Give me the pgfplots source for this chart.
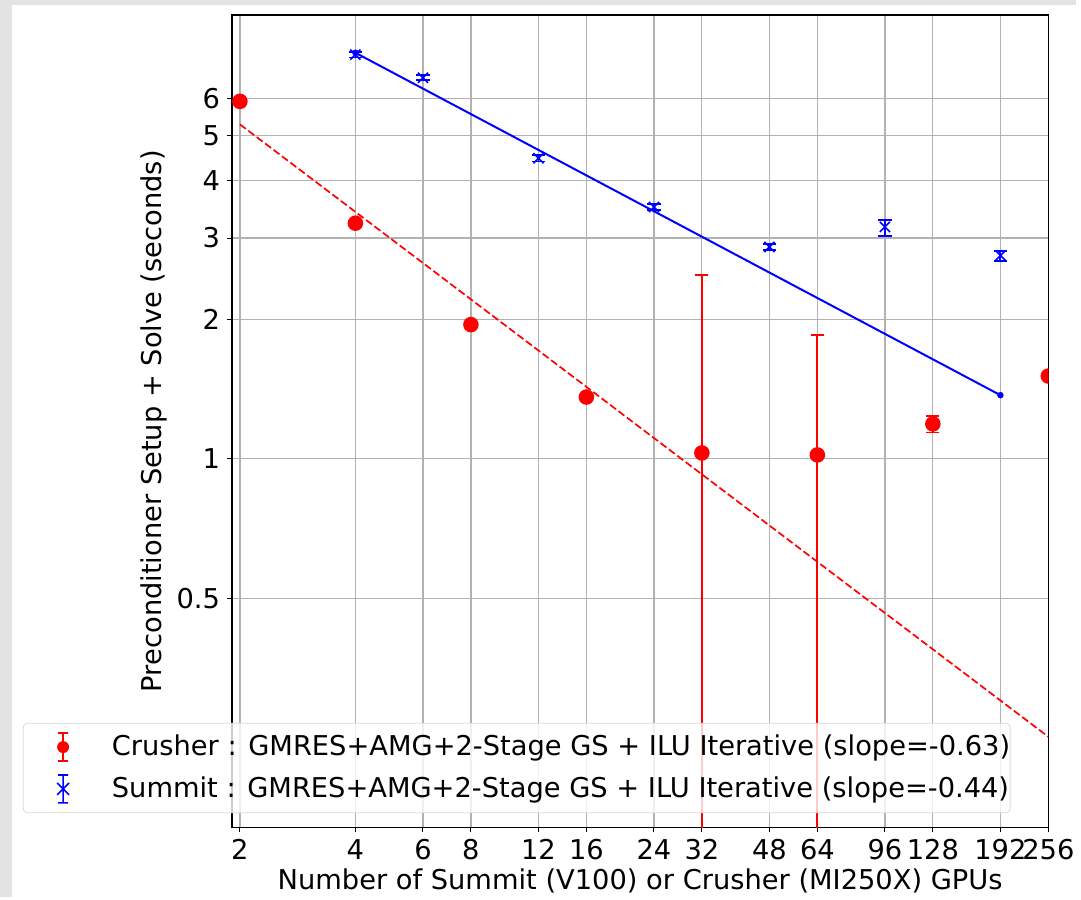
\documentclass[border=0pt]{standalone}
\usepackage{fontspec}
\setmainfont{DejaVu Sans}
\usepackage{pgfplots}
\pgfplotsset{compat=1.18}
\pgfplotstableread{
x y ep em
2 5.92 0.05 0.05
4 3.23 0.03 0.03
8 1.95 0.02 0.02
16 1.36 0.02 0.02
32 1.03 1.47 1.02
64 1.02 0.83 1.01
128 1.19 0.05 0.05
256 1.51 0.02 0.02
}\crusher
\pgfplotstableread{
x y ep em
4 7.47 0.11 0.11
6 6.66 0.08 0.08
12 4.46 0.07 0.07
24 3.50 0.05 0.05
48 2.87 0.04 0.04
96 3.17 0.11 0.14
192 2.75 0.06 0.07
}\summit
\newcommand{\fs}{\fontsize{13.7}{16}\selectfont}
\begin{document}
\begin{tikzpicture}[x=1pt,y=1pt]
\fill[gray!22] (0,0) rectangle (540.5,450.5);
\fill[white] (6,0) rectangle (540.5,448);
\begin{axis}[
  at={(116.5pt,35pt)}, anchor=south west,
  scale only axis, width=410pt, height=408pt,
  xmode=log, ymode=log, log basis x=2,
  xmin=1.907, xmax=256, ymin=0.16, ymax=9.1,
  xtick={2,4,6,8,12,16,24,32,48,64,96,128,192,256},
  xticklabels={2,4,6,8,12,16,24,32,48,64,96,128,192,256},
  ytick={0.5,1,2,3,4,5,6}, yticklabels={0.5,1,2,3,4,5,6},
  minor xtick={}, minor ytick={},
  grid=major, grid style={black!30, line width=0.6pt},
  tick align=outside, major tick length=2.5pt, tick style={black, line width=0.5pt},
  xtick pos=bottom, ytick pos=left,
  axis line style={line width=0.6pt},
  ticklabel style={font=\fs},
  /pgf/number format/assume math mode=true,
  xlabel={Number of Summit (V100) or Crusher (MI250X) GPUs},
  ylabel={Preconditioner Setup + Solve (seconds)},
  label style={font=\fs},
  xlabel style={at={(axis description cs:0.5,-0.066)}, anchor=center},
  ylabel style={at={(axis description cs:-0.095,0.5)}, anchor=center},
  clip marker paths=true,
  legend cell align=left,
  legend style={at={(axis description cs:-0.2561,0.1287)}, anchor=north west,
    fill=white, fill opacity=0.8, draw opacity=1, text opacity=1,
    draw=black!15, rounded corners=2pt, font=\fs,
    inner xsep=0pt, inner ysep=1.5pt, row sep=0pt, column sep=0pt,
    nodes={inner sep=0pt}},
]
\addplot[red, line width=1pt, only marks, mark=*, mark size=3.4pt, forget plot,
  error bars/.cd, y dir=both, y explicit,
  error bar style={line width=1pt},
  error mark options={rotate=90, mark size=3.25pt, line width=0.9pt}]
  table[x=x, y=y, y error plus=ep, y error minus=em] {\crusher};
\addplot[blue, line width=0.8pt, only marks, mark=x, mark size=3.6pt, forget plot,
  error bars/.cd, y dir=both, y explicit,
  error bar style={line width=0.9pt},
  error mark options={rotate=90, mark size=3.4pt, line width=0.9pt}]
  table[x=x, y=y, y error plus=ep, y error minus=em] {\summit};
\addplot[red, line width=0.85pt, dash pattern=on 3.7pt off 1.6pt, forget plot]
  coordinates {(2,5.28) (256,0.251)};
\addplot[blue, line width=1pt, mark=*, mark size=1.1pt, forget plot]
  coordinates {(4,7.54) (192,1.373)};
\addlegendimage{legend image code/.code={
    \path[draw=none] (0pt,-10.5pt) rectangle (44.5pt,10.5pt);
    \draw[red, line width=0.8pt, rounded corners=0pt, draw opacity=1] (20pt,-7pt)--(20pt,7pt)
      (17.5pt,7pt)--(22.5pt,7pt) (17.5pt,-7pt)--(22.5pt,-7pt);
    \fill[red, draw=none, fill opacity=1] (20pt,0pt) circle[radius=3pt];}}
\addlegendentry{Crusher : GMRES+AMG+2-Stage GS + ILU Iterative (slope=-0.63)}
\addlegendimage{legend image code/.code={
    \path[draw=none] (0pt,-10.5pt) rectangle (44.5pt,10.5pt);
    \draw[blue, line width=0.8pt, rounded corners=0pt, draw opacity=1] (20pt,-7pt)--(20pt,7pt)
      (17.5pt,7pt)--(22.5pt,7pt) (17.5pt,-7pt)--(22.5pt,-7pt)
      (17pt,-3pt)--(23pt,3pt) (17pt,3pt)--(23pt,-3pt);}}
\addlegendentry{Summit : GMRES+AMG+2-Stage GS + ILU Iterative (slope=-0.44)}
\end{axis}
\end{tikzpicture}
\end{document}
